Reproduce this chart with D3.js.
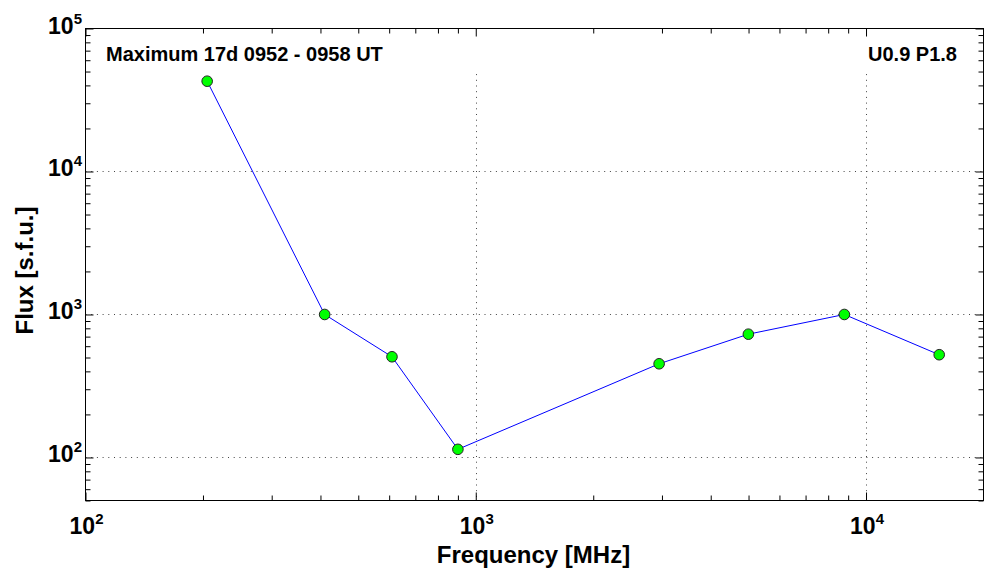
<!DOCTYPE html>
<html>
<head>
<meta charset="utf-8">
<script src="https://cdn.jsdelivr.net/npm/d3@7"></script>
<style>
  html, body { margin: 0; padding: 0; background: #fff; }
  svg { display: block; }
  text { font-family: "Liberation Sans", Arial, sans-serif; font-weight: bold; fill: #000; }
</style>
</head>
<body>
<svg id="chart" width="984" height="576"></svg>
<script>
// Radio burst spectrum at maximum: frequency (MHz) vs flux (s.f.u.)
const frequencies = [205, 410, 610, 900, 2950, 4995, 8800, 15400];
const fluxes = [42800, 1000, 506, 114, 452, 728, 1000, 523];

const xMajorTicks = [100, 1000, 10000];
const yMajorTicks = [100, 1000, 10000, 100000];
const titleText = "Maximum 17d 0952 - 0958 UT";
const cornerText = "U0.9 P1.8";
const xLabel = "Frequency [MHz]";
const yLabel = "Flux [s.f.u.]";

const W = 984, H = 576;
const L = 85.5, R = 983.5, T = 28.5, B = 500.5;

const svg = d3.select("#chart");

const x = d3.scaleLog().domain([100, 20000]).range([L, R]);
const y = d3.scaleLog().domain([50, 100000]).range([B, T]);

// minor tick positions (every integer multiple inside each decade)
function minorTicks(scale) {
  const [a, b] = scale.domain();
  const out = [];
  for (let d = Math.pow(10, Math.floor(Math.log10(a))); d < b; d *= 10) {
    for (let k = 1; k < 10; k++) {
      const v = k * d;
      if (v >= a && v <= b && k !== 1) out.push(v);
    }
  }
  return out;
}
const xMinor = minorTicks(x);
const yMinor = minorTicks(y);

// dotted grid at major decades
const grid = svg.append("g").attr("class", "grid")
  .attr("stroke", "#444").attr("stroke-width", 1).attr("stroke-dasharray", "1,4.7");
grid.selectAll("line.gx").data(xMajorTicks.filter(v => x(v) > L + 1 && x(v) < R - 1))
  .join("line").attr("class", "gx")
  .attr("x1", d => Math.round(x(d)) + 0.5).attr("x2", d => Math.round(x(d)) + 0.5)
  .attr("y1", T).attr("y2", B);
grid.selectAll("line.gy").data(yMajorTicks.filter(v => y(v) > T + 1 && y(v) < B - 1))
  .join("line").attr("class", "gy")
  .attr("y1", d => Math.round(y(d)) + 0.5).attr("y2", d => Math.round(y(d)) + 0.5)
  .attr("x1", L).attr("x2", R);

// white band behind the annotation texts
svg.append("rect").attr("x", L + 1).attr("y", T + 1).attr("width", R - L - 2).attr("height", 41)
  .attr("fill", "#fff");

// data line and markers
const line = d3.line().x((d, i) => x(frequencies[i])).y(d => y(d));
svg.append("path").datum(fluxes)
  .attr("d", line).attr("fill", "none").attr("stroke", "#0000ff").attr("stroke-width", 1);
svg.append("g").selectAll("circle").data(fluxes).join("circle")
  .attr("cx", (d, i) => x(frequencies[i])).attr("cy", d => y(d)).attr("r", 5.3)
  .attr("fill", "#00ff00").attr("stroke", "#222").attr("stroke-width", 1);

// axes: all four sides, ticks pointing inward
function styleAxis(g) {
  g.select(".domain").remove();
  g.selectAll(".tick line").attr("stroke", "#000").attr("stroke-width", 1);
  g.selectAll(".tick text").remove();
}
const majorLen = 8, minorLen = 5;
svg.append("g").attr("transform", `translate(0,${B})`)
  .call(d3.axisBottom(x).tickValues(xMajorTicks).tickSize(-majorLen).tickFormat("")).call(styleAxis);
svg.append("g").attr("transform", `translate(0,${B})`)
  .call(d3.axisBottom(x).tickValues(xMinor).tickSize(-minorLen).tickFormat("")).call(styleAxis);
svg.append("g").attr("transform", `translate(0,${T})`)
  .call(d3.axisTop(x).tickValues(xMajorTicks).tickSize(-majorLen).tickFormat("")).call(styleAxis);
svg.append("g").attr("transform", `translate(0,${T})`)
  .call(d3.axisTop(x).tickValues(xMinor).tickSize(-minorLen).tickFormat("")).call(styleAxis);
svg.append("g").attr("transform", `translate(${L},0)`)
  .call(d3.axisLeft(y).tickValues(yMajorTicks).tickSize(-majorLen).tickFormat("")).call(styleAxis);
svg.append("g").attr("transform", `translate(${L},0)`)
  .call(d3.axisLeft(y).tickValues(yMinor).tickSize(-minorLen).tickFormat("")).call(styleAxis);
svg.append("g").attr("transform", `translate(${R},0)`)
  .call(d3.axisRight(y).tickValues(yMajorTicks).tickSize(-majorLen).tickFormat("")).call(styleAxis);
svg.append("g").attr("transform", `translate(${R},0)`)
  .call(d3.axisRight(y).tickValues(yMinor).tickSize(-minorLen).tickFormat("")).call(styleAxis);

// frame
svg.append("rect").attr("x", L).attr("y", T).attr("width", R - L).attr("height", B - T)
  .attr("fill", "none").attr("stroke", "#000").attr("stroke-width", 1);

// tick labels as powers of ten
function powLabel(sel, v) {
  const e = Math.round(Math.log10(v));
  sel.append("tspan").attr("font-size", 23).text("10");
  sel.append("tspan").attr("font-size", 15).attr("dy", -10).text(e);
}
svg.append("g").selectAll("text").data(xMajorTicks).join("text")
  .attr("x", d => x(d) + 1).attr("y", 533.5).attr("text-anchor", "middle")
  .each(function (d) { powLabel(d3.select(this), d); });
svg.append("g").selectAll("text").data(yMajorTicks).join("text")
  .attr("x", 82).attr("y", d => y(d) + 5).attr("text-anchor", "end")
  .each(function (d) { powLabel(d3.select(this), d); });

// axis titles
svg.append("text").attr("x", (L + R) / 2 - 1).attr("y", 563).attr("text-anchor", "middle")
  .attr("font-size", 24).text(xLabel);
svg.append("text").attr("transform", `translate(33,${(T + B) / 2 + 6}) rotate(-90)`)
  .attr("text-anchor", "middle").attr("font-size", 24).text(yLabel);

// annotations inside the plot
svg.append("text").attr("x", 106).attr("y", 61).attr("font-size", 20).text(titleText);
svg.append("text").attr("x", 957).attr("y", 61).attr("text-anchor", "end").attr("font-size", 20).text(cornerText);
</script>
</body>
</html>
